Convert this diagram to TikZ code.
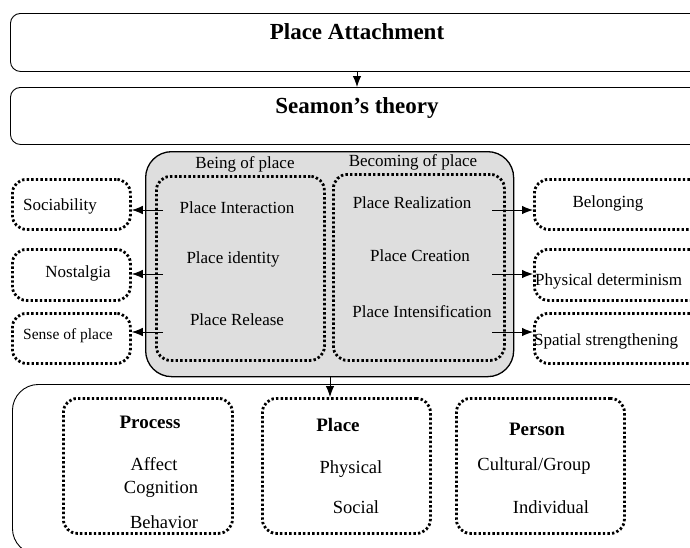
\documentclass[tikz,border=0pt]{standalone}
\usepackage{fontspec}
\setmainfont{Liberation Serif}
\usetikzlibrary{arrows.meta}
\begin{document}
\begin{tikzpicture}[x=1pt,y=-1pt,
  solidbox/.style={draw, line width=0.9pt, rounded corners=10pt, anchor=north west, inner sep=0},
  graybox/.style={draw, line width=1.3pt, fill=black!13, rounded corners=26pt, anchor=north west, inner sep=0},
  dotbox/.style={draw, line width=2.8pt, dash pattern=on 2.4pt off 2.2pt, rounded corners=14pt, anchor=north west, inner sep=0},
  arr/.style={-{Latex[length=11pt,width=8.5pt]}, line width=0.9pt},
  txt/.style={font=\fontsize{17}{20}\selectfont, inner sep=0},
  stxt/.style={font=\fontsize{15.5}{18}\selectfont, inner sep=0},
  btxt/.style={font=\fontsize{18.5}{22}\selectfont, inner sep=0},
  bbold/.style={font=\fontsize{19}{22}\selectfont\bfseries, inner sep=0},
  title/.style={font=\fontsize{23}{26}\selectfont\bfseries, inner sep=0}]
\useasboundingbox (0,0) rectangle (690,547);
\clip (0,0) rectangle (690,547);
% top boxes
\node[solidbox, minimum width=720, minimum height=58] (pa) at (10,13) {};
\node[title] (pat) at (357,32) {Place Attachment};
\node[solidbox, minimum width=720, minimum height=57] (st) at (10,87) {};
\node[title] (stt) at (357,108) {Seamon’s theory};
\coordinate (a1) at (357,72);
\draw[arr] (a1) -- (st.north -| a1);
% gray box
\node[graybox, minimum width=368, minimum height=225] (gb) at (145,151) {};
\node[dotbox, minimum width=168, minimum height=184] (lb) at (155,175) {};
\node[dotbox, minimum width=171, minimum height=186] (rb) at (332,173) {};
\node[txt] (being) at (245,164) {Being of place};
\node[txt] (becoming) at (413,162) {Becoming of place};
\node[txt] (pi) at (237,208) {Place Interaction};
\node[txt] (pid) at (233,259) {Place identity};
\node[txt] (pr) at (237,320) {Place Release};
\node[txt] (prl) at (412,203) {Place Realization};
\node[txt] (pc) at (420,256) {Place Creation};
\node[txt] (pin) at (422,312) {Place Intensification};
% left boxes
\node[dotbox, minimum width=118, minimum height=50] (soc) at (11,178) {};
\node[dotbox, minimum width=118, minimum height=51] (nos) at (11,248) {};
\node[dotbox, minimum width=118, minimum height=50] (sop) at (11,312) {};
\node[txt] (soct) at (60,206) {Sociability};
\node[txt] (nost) at (78,273) {Nostalgia};
\node[stxt] (sopt) at (68,336) {Sense of place};
% right boxes
\node[dotbox, minimum width=197, minimum height=50] (bel) at (533,178) {};
\node[dotbox, minimum width=197, minimum height=51] (phd) at (533,248) {};
\node[dotbox, minimum width=197, minimum height=50] (sps) at (533,312) {};
\node[txt] (belt) at (608,203) {Belonging};
\node[txt, anchor=west] (phdt) at (535,281) {Physical determinism};
\node[txt, anchor=west] (spst) at (534,341) {Spatial strengthening};
% side arrows
\coordinate (l1) at (163,210);
\coordinate (l2) at (163,274);
\coordinate (l3) at (163,332);
\draw[arr] (l1) -- (soc.east |- l1);
\draw[arr] (l2) -- (nos.east |- l2);
\draw[arr] (l3) -- (sop.east |- l3);
\coordinate (r1) at (492,210);
\coordinate (r2) at (492,274);
\coordinate (r3) at (492,332);
\draw[arr] (r1) -- (bel.west |- r1);
\draw[arr] (r2) -- (phd.west |- r2);
\draw[arr] (r3) -- (sps.west |- r3);
% bottom
\node[solidbox, minimum width=720, minimum height=170, rounded corners=26pt] (bot) at (12,384) {};
\node[dotbox, minimum width=169, minimum height=135] (proc) at (62,397) {};
\node[dotbox, minimum width=168, minimum height=135] (plc) at (261,397) {};
\node[dotbox, minimum width=168, minimum height=135] (per) at (455,397) {};
\coordinate (d1) at (330,376);
\draw[arr] (d1) -- (plc.north -| d1);
\node[bbold] (proct) at (150,422) {Process};
\node[btxt] (aff) at (154,464) {Affect};
\node[btxt] (cog) at (161,489) {Cognition};
\node[btxt] (beh) at (164,522) {Behavior};
\node[bbold] (plct) at (338,425) {Place};
\node[btxt] (phy) at (351,469) {Physical};
\node[btxt] (soci) at (356,507) {Social};
\node[bbold] (pert) at (537,429) {Person};
\node[btxt] (cul) at (534,466) {Cultural/Group};
\node[btxt] (ind) at (551,507) {Individual};
\end{tikzpicture}
\end{document}
